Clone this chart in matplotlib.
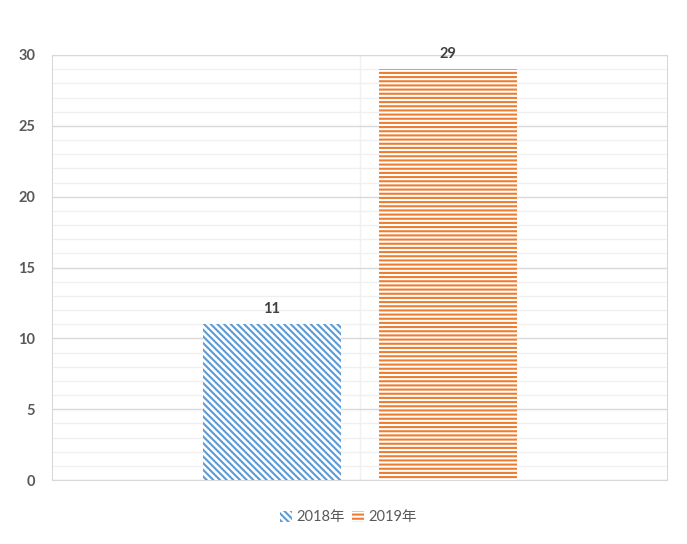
import numpy as np
import matplotlib
matplotlib.use("Agg")
import matplotlib.pyplot as plt
from matplotlib.ticker import MultipleLocator

plt.rcParams['font.family'] = ['Lato', 'Noto Sans CJK SC', 'DejaVu Sans']
plt.rcParams['hatch.linewidth'] = 1.5

# --- Data ---
series = ["2018年", "2019年"]
values = [11, 29]
colors = ["#5B9BD5", "#ED7D31"]
hatches = ["\\" * 5, "----"]
positions = [0.3577, 0.6439]
bar_width = 0.2244

fig = plt.figure(figsize=(6.87, 5.44), dpi=100)
ax = fig.add_axes([0.0757, 0.1176, 0.8952, 0.7813])

for name, v, c, h, p in zip(series, values, colors, hatches, positions):
    ax.bar(p, v, width=bar_width, color="white", edgecolor=c,
           hatch=h, linewidth=0, label=name, zorder=3)
    ax.text(p, v + 0.6, str(v), ha="center", va="bottom",
            fontsize=10.5, fontweight="bold", color="#404040")

ax.set_xlim(0, 1)
ax.set_ylim(0, 30)
ax.set_xticks([])
ax.yaxis.set_major_locator(MultipleLocator(5))
ax.yaxis.set_minor_locator(MultipleLocator(1))
ax.grid(which="major", axis="y", color="#d9d9d9", linewidth=1, zorder=0)
ax.grid(which="minor", axis="y", color="#f0f0f0", linewidth=1, zorder=0)
ax.axvline(0.5, color="#f0f0f0", linewidth=1, zorder=0)
ax.tick_params(axis="y", which="both", length=0, pad=12,
               labelsize=10.5, labelcolor="#595959")
for lbl in ax.get_yticklabels():
    lbl.set_fontweight("bold")
for s in ax.spines.values():
    s.set_color("#d9d9d9")

fig.legend(loc="center", bbox_to_anchor=(0.507, 0.049), ncol=2, frameon=False,
           fontsize=10.5, labelcolor="#595959", handlelength=0.8,
           handleheight=0.8, handletextpad=0.3, columnspacing=0.5)

fig.savefig("out.png", dpi=100)
